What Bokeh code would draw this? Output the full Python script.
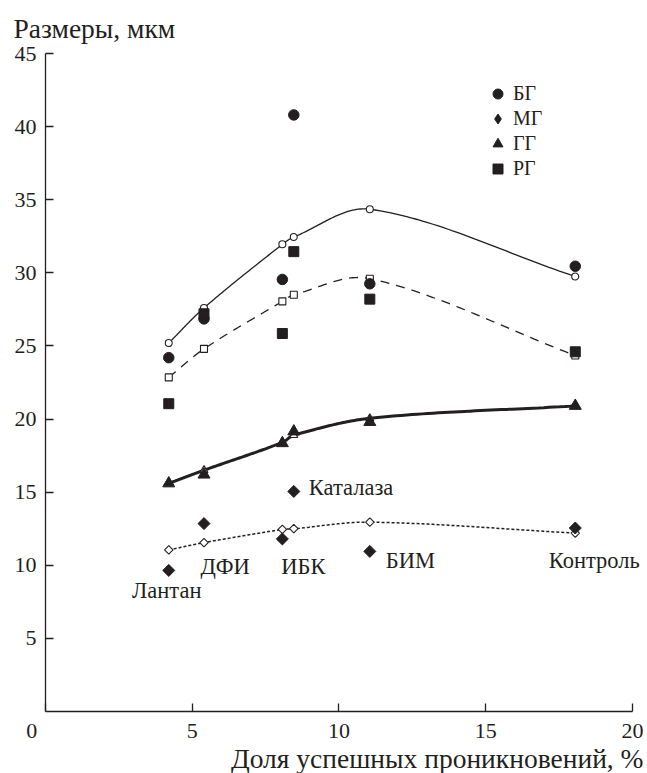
import numpy as np
from bokeh.plotting import figure
from bokeh.models import FixedTicker, Label, Legend, LegendItem, Range1d, Title
from bokeh.embed import file_html
from bokeh.resources import INLINE

# ---------------- data ----------------
treatments = ["Лантан", "ДФИ", "ИБК", "Каталаза", "БИМ", "Контроль"]
share = [4.2, 5.4, 8.07, 8.46, 11.05, 18.05]          # Доля успешных проникновений, %

bg = [24.2, 26.85, 29.55, 40.8, 29.25, 30.45]        # БГ
mg = [9.65, 12.85, 11.8, 15.05, 10.95, 12.55]        # МГ
gg = [15.6, 16.2, 18.35, 19.15, 19.8, 20.9]          # ГГ
rg = [21.05, 27.2, 25.85, 31.45, 28.2, 24.6]         # РГ

bg_fit = [25.2, 27.6, 31.95, 32.45, 34.35, 29.75]
mg_fit = [11.05, 11.55, 12.45, 12.5, 12.95, 12.2]
gg_fit = [15.6, 16.5, 18.4, 18.9, 20.05, 20.9]
rg_fit = [22.85, 24.8, 28.05, 28.5, 29.6, 24.35]

x_ticks = [0, 5, 10, 15, 20]
y_ticks = [5, 10, 15, 20, 25, 30, 35, 40, 45]

INK = "#231f20"
FONT = "Liberation Serif"
NB = "\u00a0"


def smooth(xs, ys, n=40):
    """Hermite curve through the given points (for drawing the line only)."""
    xs = np.asarray(xs, float)
    ys = np.asarray(ys, float)
    m = np.empty_like(ys)
    m[1:-1] = (ys[2:] - ys[:-2]) / (xs[2:] - xs[:-2])
    m[0] = (ys[1] - ys[0]) / (xs[1] - xs[0])
    m[-1] = (ys[-1] - ys[-2]) / (xs[-1] - xs[-2])
    ox, oy = [], []
    for i in range(len(xs) - 1):
        h = xs[i + 1] - xs[i]
        t = np.linspace(0, 1, n, endpoint=(i == len(xs) - 2))
        h00 = 2 * t**3 - 3 * t**2 + 1
        h10 = t**3 - 2 * t**2 + t
        h01 = -2 * t**3 + 3 * t**2
        h11 = t**3 - t**2
        ox.extend(xs[i] + t * h)
        oy.extend(h00 * ys[i] + h10 * h * m[i] + h01 * ys[i + 1] + h11 * h * m[i + 1])
    return ox, oy


p = figure(width=647, height=773, x_range=Range1d(0, 20.443), y_range=Range1d(0, 45),
           output_backend="svg", toolbar_location=None,
           min_border_left=45, min_border_right=2, min_border_top=53, min_border_bottom=62)
p.outline_line_color = None
p.grid.visible = False
p.background_fill_color = "white"

for ax in (p.xaxis, p.yaxis):
    ax.axis_line_color = INK
    ax.axis_line_width = 1.3
    ax.major_tick_line_color = INK
    ax.major_tick_line_width = 1.3
    ax.major_tick_in = 8
    ax.major_tick_out = 0
    ax.minor_tick_line_color = None
    ax.major_label_text_font = FONT
    ax.major_label_text_font_size = "22px"
    ax.major_label_text_color = INK
p.xaxis.ticker = FixedTicker(ticks=x_ticks)
p.yaxis.ticker = FixedTicker(ticks=y_ticks)
p.xaxis.bounds = (0, 20)
p.xaxis.major_label_overrides = {0: "0" + NB * 5}
p.xaxis.major_label_standoff = 6
p.yaxis.major_label_standoff = 9

# axis titles
title_style = dict(text_font=FONT, text_font_size="27.5px", text_font_style="normal", text_color=INK)
p.add_layout(Title(text="Размеры, мкм", align="left", offset=-32, standoff=19, **title_style), "above")
try:
    x_title = Title(text="Доля успешных проникновений, %", align="right", offset=2, standoff=-9,
                    **title_style)
except ValueError:
    x_title = Title(text="Доля успешных проникновений, %", align="right", offset=2, standoff=0,
                    **title_style)
p.add_layout(x_title, "below")

# fitted curves
cx, cy = smooth(share, bg_fit)
p.line(cx, cy, line_color=INK, line_width=1.3)
cx, cy = smooth(share, rg_fit)
p.line(cx, cy, line_color=INK, line_width=1.3, line_dash="9 7")
cx, cy = smooth(share, gg_fit)
p.line(cx, cy, line_color=INK, line_width=3)
cx, cy = smooth(share, mg_fit)
p.line(cx, cy, line_color=INK, line_width=1.5, line_dash="3 2")

# open (fitted) markers
p.scatter(share, bg_fit, marker="circle", size=7, fill_color="white", line_color=INK, line_width=1.1)
p.scatter(share, rg_fit, marker="square", size=7, fill_color="white", line_color=INK, line_width=1.1)
p.scatter(share, gg_fit, marker="triangle", size=8, fill_color="white", line_color=INK, line_width=1.1)
p.scatter(share, mg_fit, marker="square", angle=np.pi / 4, size=6, fill_color="white",
          line_color=INK, line_width=1.1)

# measured markers (the МГ diamond key glyph sits hidden under the rotated squares)
r_mg_key = p.scatter(share, mg, marker="diamond", size=10, fill_color=INK, line_color=INK)
r_bg = p.scatter(share, bg, marker="circle", size=10.5, fill_color=INK, line_color=INK)
p.scatter(share, mg, marker="square", angle=np.pi / 4, size=8.5, fill_color=INK, line_color=INK)
r_gg = p.scatter(share, gg, marker="triangle", size=12, fill_color=INK, line_color=INK)
r_rg = p.scatter(share, rg, marker="square", size=10, fill_color=INK, line_color=INK)

legend = Legend(items=[LegendItem(label="БГ", renderers=[r_bg]),
                       LegendItem(label="МГ", renderers=[r_mg_key]),
                       LegendItem(label="ГГ", renderers=[r_gg]),
                       LegendItem(label="РГ", renderers=[r_rg])],
                location=(440, 530), glyph_width=25, glyph_height=25, spacing=0,
                padding=0, margin=0, border_line_color=None, background_fill_alpha=0,
                label_text_font=FONT, label_text_font_size="20px", label_text_color=INK,
                label_standoff=3, label_height=25)
p.add_layout(legend)

# treatment labels
lab_y = [8.28, 9.92, 9.92, 15.32, 10.33, 10.33]
lab_dx = [-2, -3.5, -1, 15, 16, 19]
lab_align = ["center", "left", "left", "left", "left", "center"]
for name, xv, yv, dx, al in zip(treatments, share, lab_y, lab_dx, lab_align):
    p.add_layout(Label(x=xv, y=yv, x_offset=dx, text=name, text_align=al, text_baseline="middle",
                       text_font=FONT, text_font_size="22.5px", text_color=INK))

open("out.html", "w").write(file_html(p, INLINE))
